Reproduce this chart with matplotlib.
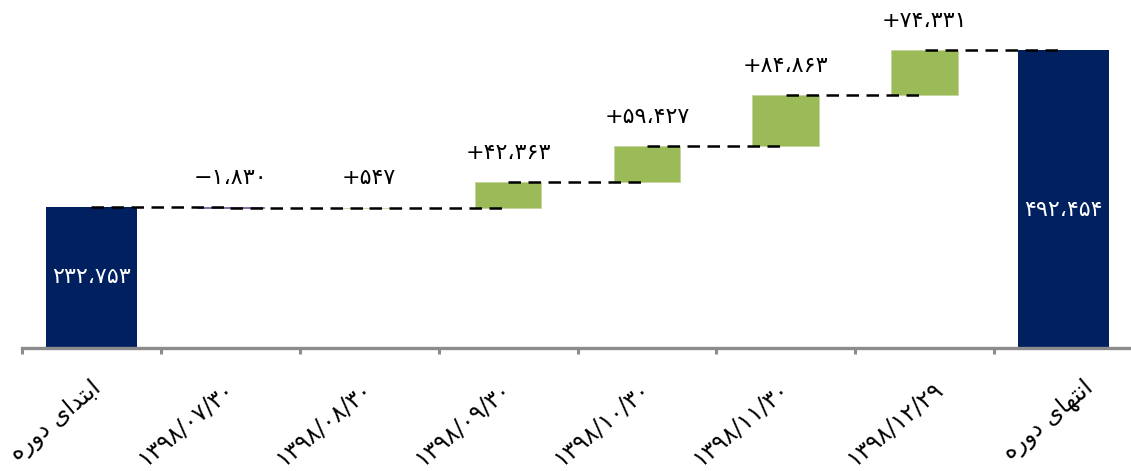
import numpy as np
import matplotlib
matplotlib.use("Agg")
import matplotlib.pyplot as plt
from matplotlib.transforms import ScaledTranslation

# waterfall: start balance, monthly changes, end balance
start_value = 232753
changes = [-1830, 547, 42363, 59427, 84863, 74331]
end_value = 492454

tick_labels = ["ابتدای دوره", "۱۳۹۸/۰۷/۳۰", "۱۳۹۸/۰۸/۳۰", "۱۳۹۸/۰۹/۳۰",
			"۱۳۹۸/۱۰/۳۰", "۱۳۹۸/۱۱/۳۰", "۱۳۹۸/۱۲/۲۹", "انتهای دوره"]

navy = "#002060"
green = "#9BBB59"
purple = "#8064A2"

########################################################################

# matplotlib has no arabic shaping, so pick presentation forms by hand
# (isolated, final, initial, medial)
FORMS = {
	"ا": ("\uFE8D", "\uFE8E", None, None),
	"ب": ("\uFE8F", "\uFE90", "\uFE91", "\uFE92"),
	"ت": ("\uFE95", "\uFE96", "\uFE97", "\uFE98"),
	"د": ("\uFEA9", "\uFEAA", None, None),
	"ر": ("\uFEAD", "\uFEAE", None, None),
	"و": ("\uFEED", "\uFEEE", None, None),
	"ه": ("\uFEE9", "\uFEEA", "\uFEEB", "\uFEEC"),
	"ن": ("\uFEE5", "\uFEE6", "\uFEE7", "\uFEE8"),
	"ی": ("\uFBFC", "\uFBFD", "\uFBFE", "\uFBFF"),
}

def shape(text):
	if not any(c in FORMS for c in text):
		return text
	out = []
	for i, c in enumerate(text):
		if c not in FORMS:
			out.append(c)
			continue
		prev_c = text[i-1] if i > 0 else None
		next_c = text[i+1] if i+1 < len(text) else None
		join_prev = prev_c in FORMS and FORMS[prev_c][2] is not None
		join_next = FORMS[c][2] is not None and next_c in FORMS
		if join_prev and join_next:
			out.append(FORMS[c][3])
		elif join_prev:
			out.append(FORMS[c][1])
		elif join_next:
			out.append(FORMS[c][2])
		else:
			out.append(FORMS[c][0])
	return "".join(out[::-1])

def persian_number(v, sign=False):
	s = "{:,}".format(abs(v))
	s = s.translate(str.maketrans("0123456789,", "۰۱۲۳۴۵۶۷۸۹،"))
	if sign:
		s = ("+" if v >= 0 else "\u2212") + s
	return s

########################################################################

plt.rcParams["font.family"] = ["DejaVu Sans"]

fig = plt.figure(figsize=(11.31, 4.71), dpi=100)
ax = fig.add_axes([22/1131, 123.5/471, 1111/1131, 347.5/471])

levels = start_value + np.cumsum(changes)
prev_levels = np.concatenate([[start_value], levels[:-1]])

# total bars
ax.bar([0, 7], [start_value, end_value], width=0.66, color=navy, zorder=2)

# change bars
for i, d in enumerate(changes):
	x = i + 1
	bottom = min(prev_levels[i], levels[i])
	ax.bar(x, abs(d), bottom=bottom, width=0.48,
		color=green if d >= 0 else purple, edgecolor="#C3D69B" if d >= 0 else purple,
		linewidth=0.6, zorder=2)
	ax.annotate(persian_number(d, sign=True), (x, max(prev_levels[i], levels[i])),
		xytext=(0, 21), textcoords="offset points", ha="center", va="center",
		fontsize=16, color="black")

# connectors from bar center to next bar center
all_levels = [start_value] + list(levels)
for i, lvl in enumerate(all_levels):
	ax.plot([i, i+1], [lvl, lvl], color="black", linewidth=1.8,
		dashes=(5, 3), zorder=3)

ax.annotate(persian_number(start_value), (0, start_value/2), ha="center", va="center",
	color="white", fontsize=16, zorder=4)
ax.annotate(persian_number(end_value), (7, end_value/2), xytext=(0, -8),
	textcoords="offset points", ha="center", va="center",
	color="white", fontsize=16, zorder=4)

ax.set_xlim(-0.5, 7.5)
ax.set_ylim(0, 575000)

for s in ["top", "left", "right"]:
	ax.spines[s].set_visible(False)
ax.spines["bottom"].set_color("#8C8C8C")
ax.spines["bottom"].set_linewidth(2.4)

ax.set_yticks([])
ax.set_xticks(range(8))
ax.set_xticklabels([shape(t) for t in tick_labels], rotation=40, ha="right",
	rotation_mode="anchor", va="center", fontsize=17)
ax.set_xticks(np.arange(-0.5, 8, 1), minor=True)
ax.tick_params(axis="x", which="major", length=0, pad=27)
ax.tick_params(axis="x", which="minor", length=4, width=2.2, color="#8C8C8C", direction="out")

# excel nudges a few labels to the right
label_dx = [7, 0, 0, 0, 0, 0, 15, 27]
for lbl, dx in zip(ax.get_xticklabels(), label_dx):
	lbl.set_transform(lbl.get_transform() + ScaledTranslation(dx/100, 0, fig.dpi_scale_trans))

fig.savefig("out.png", dpi=100)
